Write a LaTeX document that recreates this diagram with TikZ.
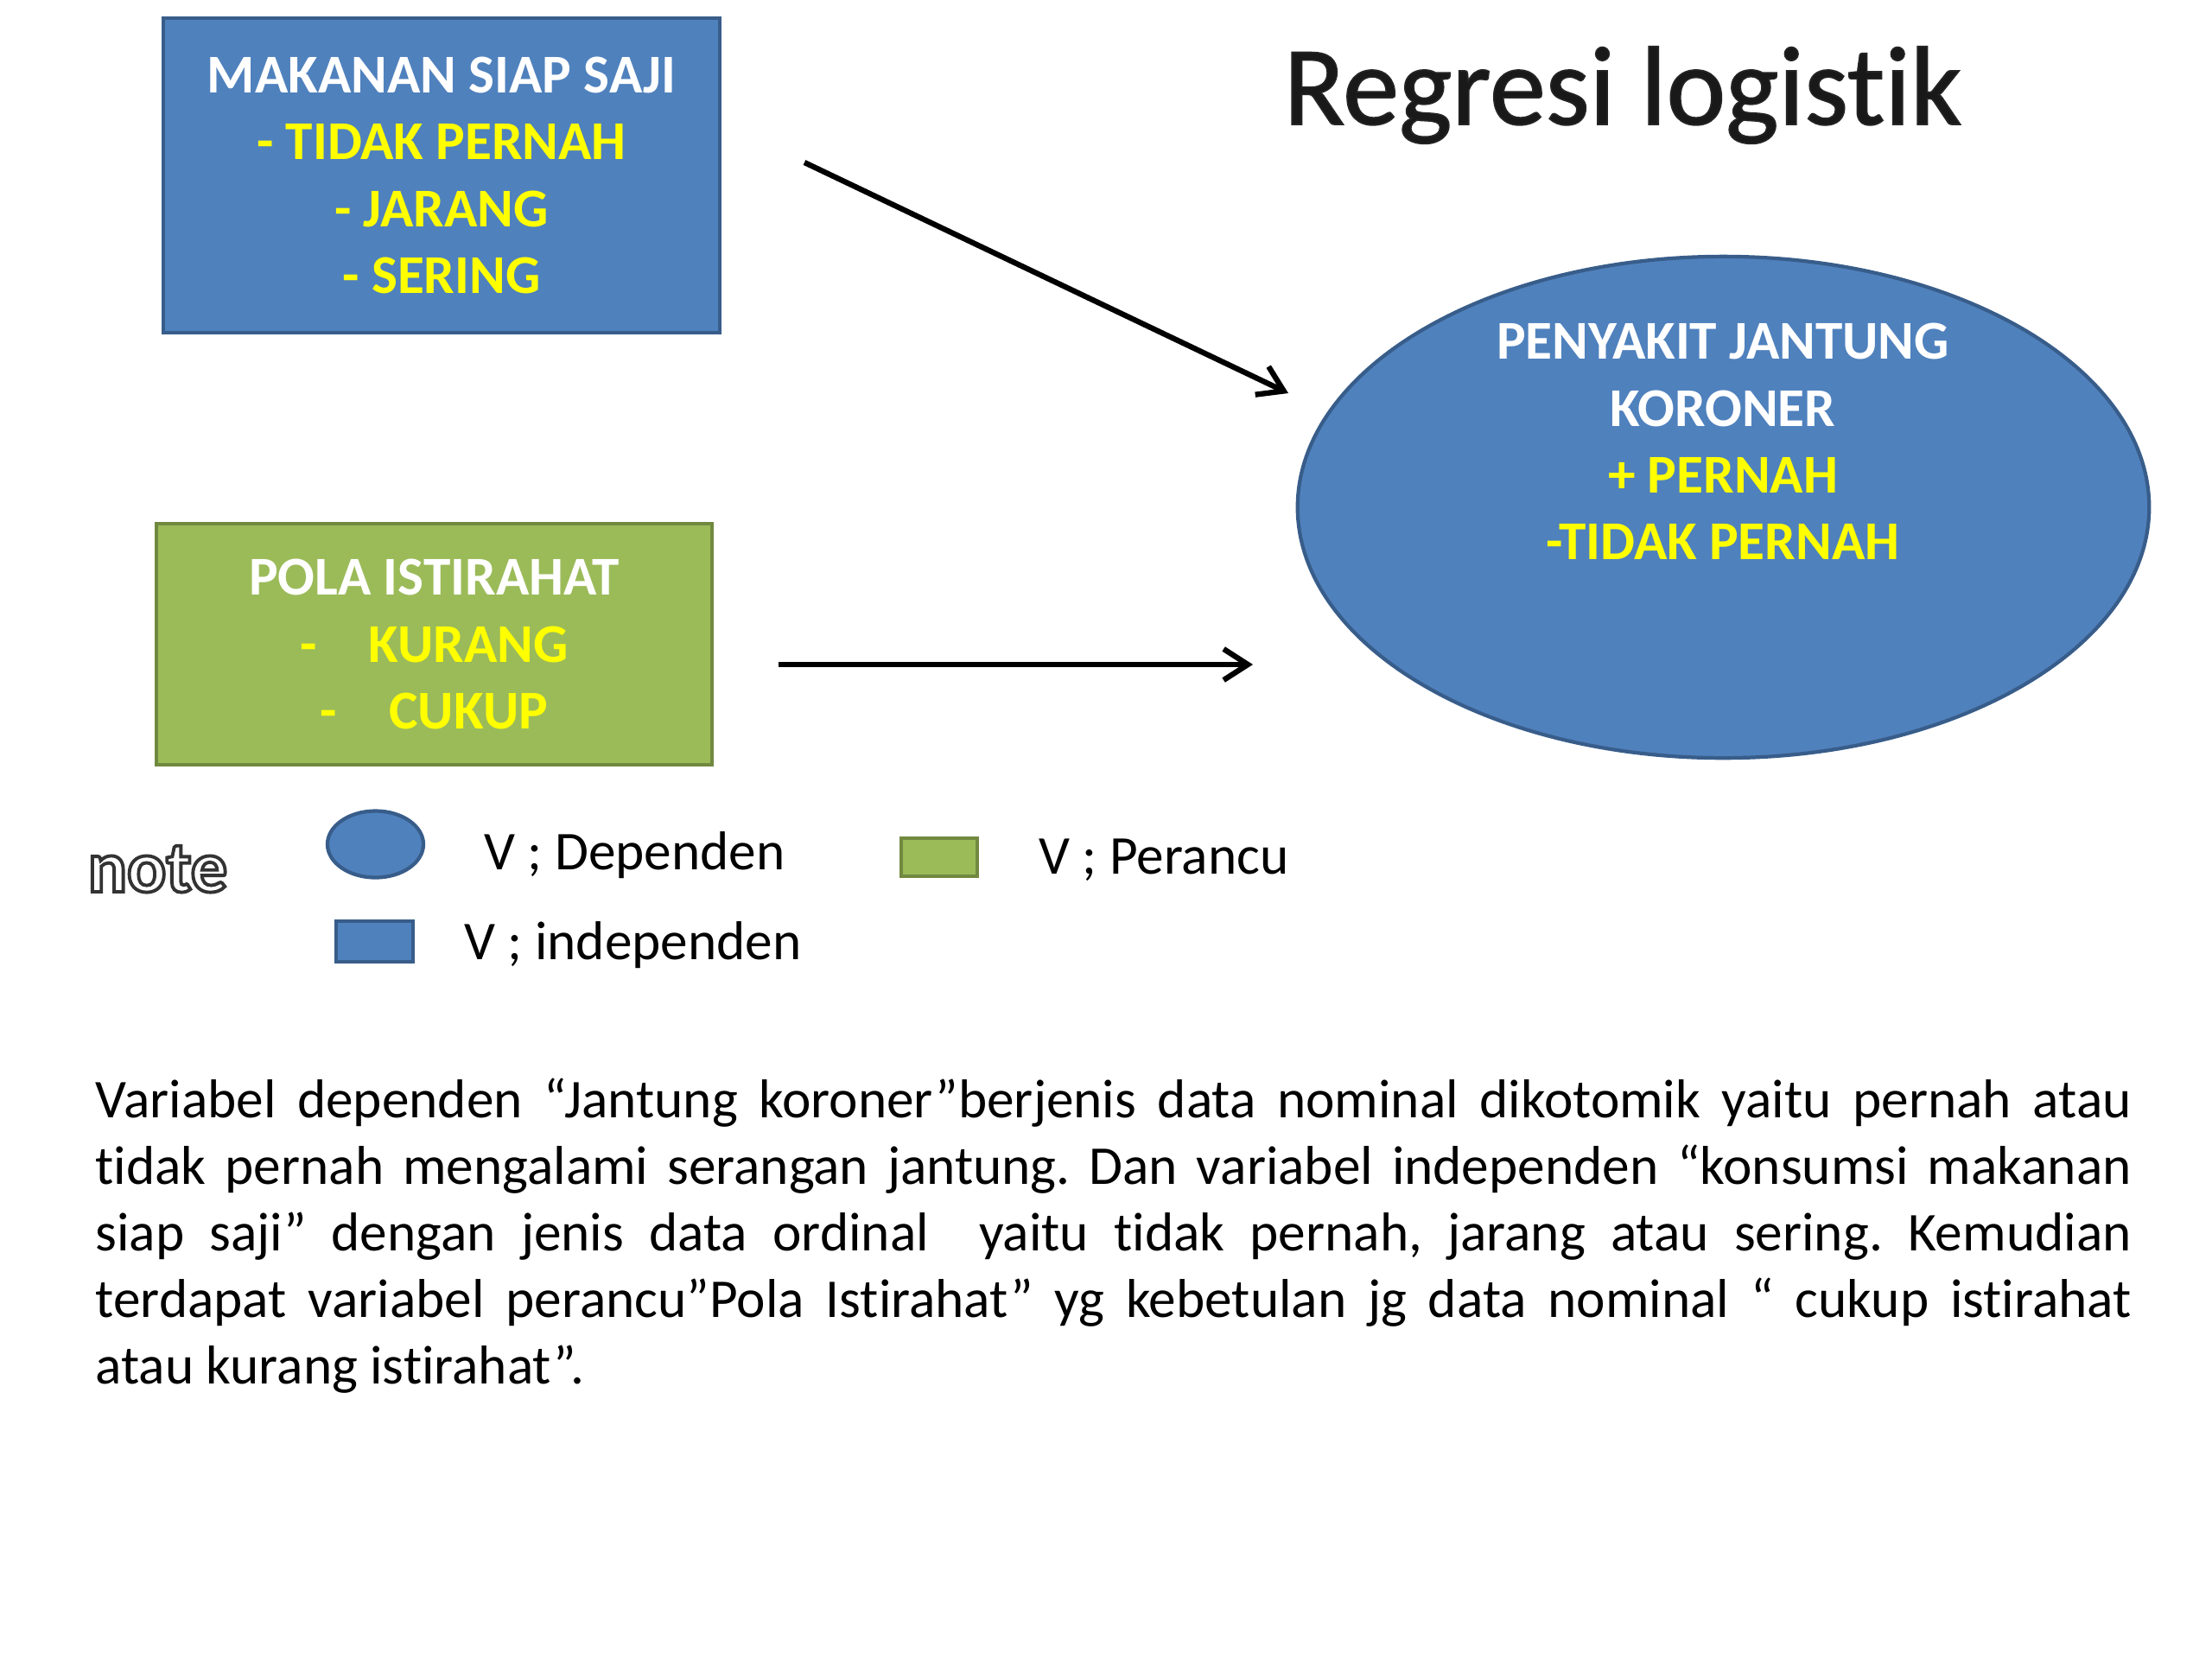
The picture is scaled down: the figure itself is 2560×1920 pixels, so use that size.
\documentclass[tikz,border=0pt]{standalone}
\usepackage{fontspec}
\setmainfont{Carlito}[Ligatures=NoCommon]
\usetikzlibrary{shapes.geometric,arrows.meta}
\definecolor{obfill}{HTML}{4F81BD}
\definecolor{obline}{HTML}{385D8A}
\definecolor{ogfill}{HTML}{9BBB59}
\definecolor{ogline}{HTML}{71893F}
\definecolor{oyel}{HTML}{FFFF00}
\newcommand\myparsetup{\frenchspacing\spaceskip=0.226em plus 1.5em minus 0.05em\relax}
\newcommand\myline[1]{\makebox[23.55cm][s]{#1}}
\begin{document}
\begin{tikzpicture}[x=0.01cm,y=-0.01cm,
 boxtext/.style={font=\bfseries\fontsize{18}{22}\selectfont, text=white, align=center},
 indep/.style={draw=obline, fill=obfill, line width=1.2pt, inner sep=0pt},
 conf/.style={draw=ogline, fill=ogfill, line width=1.2pt, inner sep=0pt},
 dep/.style={ellipse, draw=obline, fill=obfill, line width=1.2pt, inner sep=0pt},
 conn/.style={line width=1.8pt, -{Straight Barb[length=0.28cm,width=0.36cm]}},
 legtext/.style={font=\fontsize{18}{22}\selectfont, anchor=base west, inner sep=0pt},
 titlefont/.style={font=\fontsize{37}{44}\selectfont, anchor=base, inner sep=0pt},
 notefont/.style={font=\bfseries\fontsize{24}{28}\selectfont, anchor=base west, inner sep=0pt},
]
\fill[white] (0,0) rectangle (2560,1920);
\useasboundingbox (0,0) rectangle (2560,1920);

% title
\node[titlefont, text=black!90] (title) at (1878,144)
  {\special{pdf:code 0.15 G 0.45 w 2 Tr}Regresi logistik\special{pdf:code 0 Tr}};

% independent variable box
\node[indep, boxtext, minimum width=6.44cm, minimum height=3.64cm] (makanan) at (511,203)
  {MAKANAN SIAP SAJI\\\textcolor{oyel}{- TIDAK PERNAH}\\\textcolor{oyel}{- JARANG}\\\textcolor{oyel}{- SERING}};

% confounder box
\node[conf, boxtext, minimum width=6.43cm, minimum height=2.79cm] (pola) at (502.5,745.5)
  {POLA ISTIRAHAT\\\textcolor{oyel}{-\hspace{0.95em}KURANG}\\\textcolor{oyel}{-\hspace{0.95em}CUKUP}};

% dependent variable ellipse
\node[dep, minimum width=9.85cm, minimum height=5.80cm] (pjk) at (1994.5,587) {};
\node[boxtext, inner sep=0pt] (pjktext) at (1994,511)
  {PENYAKIT JANTUNG\\KORONER\\\textcolor{oyel}{+ PERNAH}\\\textcolor{oyel}{-TIDAK PERNAH}};

% connectors
\coordinate (a1s) at (931,188);
\coordinate (a1e) at (1491,455);
\coordinate (a2s) at (901,769);
\coordinate (a2e) at (1450,769);
\draw[conn] (a1s) -- (a1e);
\draw[conn] (a2s) -- (a2e);

% legend
\node[notefont, text=white] (note) at (101,1032)
  {\special{pdf:code 0.2 G 1.1 w 2 Tr}note\special{pdf:code 0 Tr}};

\node[dep, minimum width=1.11cm, minimum height=0.77cm] (legdep) at (434.5,977) {};
\node[legtext] (legdept) at (560,1006) {V ; Dependen};
\node[conf, minimum width=0.88cm, minimum height=0.44cm] (legconf) at (1087,992) {};
\node[legtext] (legconft) at (1202,1011) {V ; Perancu};
\node[indep, minimum width=0.89cm, minimum height=0.47cm] (legind) at (433.5,1089.5) {};
\node[legtext] (legindt) at (537,1110) {V ; independen};

% paragraph
\node[anchor=base west, inner sep=0pt, text width=23.55cm, align=left,
      font=\fontsize{18}{21.9}\selectfont] (para) at (110,1293)
{\myparsetup
\myline{Variabel dependen “Jantung koroner”berjenis data nominal dikotomik yaitu pernah atau}\\
\myline{tidak pernah mengalami serangan jantung. Dan variabel independen “konsumsi makanan}\\
\myline{siap saji” dengan jenis data ordinal \ yaitu tidak pernah, jarang atau sering. Kemudian}\\
\myline{terdapat variabel perancu”Pola Istirahat” yg kebetulan jg data nominal “ cukup istirahat}\\
atau kurang istirahat”.};
\end{tikzpicture}
\end{document}
